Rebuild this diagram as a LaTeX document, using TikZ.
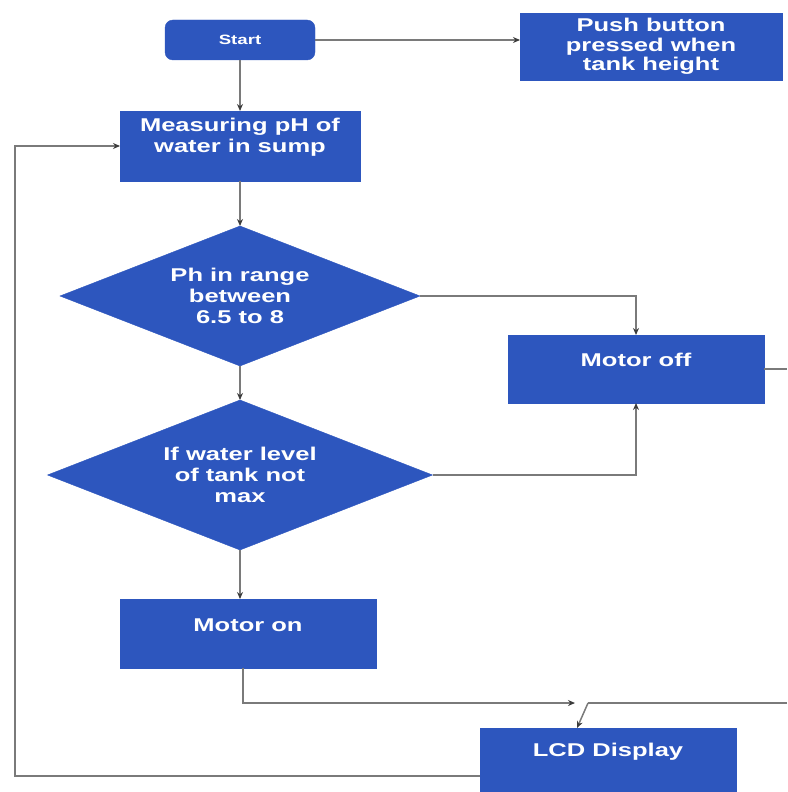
\documentclass[tikz,border=0pt]{standalone}
\usepackage{fontspec}
\newfontfamily\flowfont{Liberation Sans}[FakeStretch=1.38]
\definecolor{Flow}{HTML}{2D56BE}
\definecolor{Wire}{HTML}{7A7A7A}
\definecolor{Tip}{HTML}{3C3C3C}
\usetikzlibrary{arrows.meta, shapes.geometric}

\begin{document}
\begin{tikzpicture}[x=1pt, y=-1pt,
  blk/.style={draw=Flow, fill=Flow, text=white, align=center, inner sep=0pt, outer sep=0pt,
    font=\flowfont\bfseries\fontsize{18.5}{21}\selectfont},
  lab/.style={text=white, align=center, inner sep=0pt,
    font=\flowfont\bfseries\fontsize{18.5}{21}\selectfont},
  dec/.style={blk, diamond, aspect=2.57},
  wire/.style={draw=Wire, line width=1.5pt},
  tip/.style={-{Stealth[length=7pt, width=6pt, color=Tip]}}]
\useasboundingbox (0,0) rectangle (787,792);

\node[blk, rounded corners=8pt, minimum width=150, minimum height=40,
  font=\flowfont\bfseries\fontsize{13.5}{16}\selectfont] (start) at (240,40) {Start};
\node[blk, minimum width=262, minimum height=67,
  font=\flowfont\bfseries\fontsize{18.5}{19.5}\selectfont] (push) at (651,46.5)
  {Push button\\pressed when\\tank height};
\node[blk, minimum width=240, minimum height=70,
  label={[lab, yshift=9pt]center:{Measuring pH of\\water in sump}}] (measure) at (240,146) {};
\node[dec, minimum width=360, minimum height=140] (d1) at (240,296) {Ph in range\\between\\6.5 to 8};
\node[dec, minimum width=385, minimum height=150] (d2) at (240,475) {If water level\\of tank not\\max};
\node[blk, minimum width=256, minimum height=68,
  label={[lab, yshift=9pt]center:Motor off}] (moff) at (636,369) {};
\node[blk, minimum width=256, minimum height=69,
  label={[lab, yshift=8.5pt]center:Motor on}] (mon) at (248,633.5) {};
\node[blk, minimum width=256, minimum height=96,
  label={[lab, yshift=24pt]center:LCD Display}] (lcd) at (608,776) {};

% loose ends at the border
\coordinate (rimA) at (787,369);
\coordinate (rimB) at (787,703);
\coordinate (rimL) at (15,776);
\coordinate (fork) at (588,703);

\draw[wire, tip] (start.east) -- (start.east -| push.west);
\draw[wire, tip] (start) -- (measure);
\draw[wire, tip] (measure) -- (d1);
\draw[wire, tip] (d1.east) -| (moff.north);
\draw[wire, tip] (d1) -- (d2);
\draw[wire, tip] (d2.east) -| (moff.south);
\draw[wire, tip] (d2.south) -- (d2.south |- mon.north);
\draw[wire] (moff.east) -- (rimA);
\draw[wire, tip] ([xshift=-5pt]mon.south) |- ([xshift=-13pt]fork);
\draw[wire] (rimB) -- (fork);
\draw[wire, tip] (fork) -- ([xshift=-31pt]lcd.north);
\draw[wire, tip] (lcd.west) -- (rimL) |- (measure.west);
\end{tikzpicture}
\end{document}
